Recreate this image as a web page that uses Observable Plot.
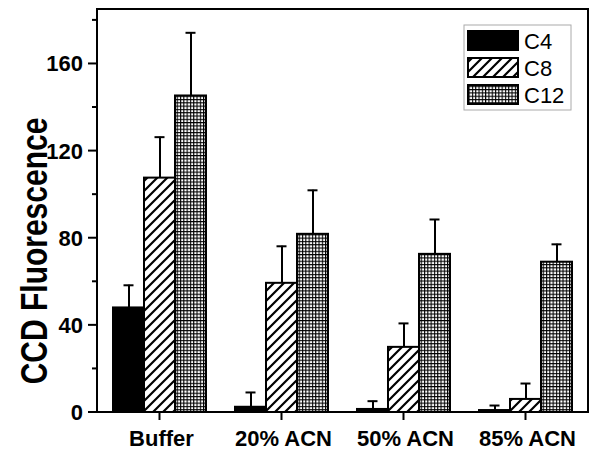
<!DOCTYPE html>
<html>
<head>
<meta charset="utf-8">
<script src="https://cdn.jsdelivr.net/npm/d3@7"></script>
<script src="https://cdn.jsdelivr.net/npm/@observablehq/plot@0.6"></script>
<style>
  html, body { margin: 0; padding: 0; background: #fff; }
  svg { display: block; }
</style>
</head>
<body>
<div id="chart"></div>
<script>
// ---- data ----
const groups = ["Buffer", "20% ACN", "50% ACN", "85% ACN"];
const series = ["C4", "C8", "C12"];
const c4Values  = [48, 2.4, 1.4, 0.9];
const c4Errors  = [10.4, 6.8, 3.8, 2.3];
const c8Values  = [107.6, 59.3, 29.9, 6];
const c8Errors  = [18.8, 17, 11, 7.3];
const c12Values = [145.3, 81.8, 72.6, 69];
const c12Errors = [29, 20.2, 16, 8.2];
const yTicks = [0, 40, 80, 120, 160];
const yMinorTicks = [20, 60, 100, 140, 180];

const valueArrays = {C4: c4Values, C8: c8Values, C12: c12Values};
const errorArrays = {C4: c4Errors, C8: c8Errors, C12: c12Errors};
const fills = {C4: "black", C8: "url(#hatch)", C12: "url(#grid)"};

const rows = [];
groups.forEach((g, i) => series.forEach(s => rows.push({
  group: g, series: s, value: valueArrays[s][i], err: errorArrays[s][i]
})));

const font = "'Liberation Sans', Arial, sans-serif";
const W = 601, H = 451;
const mL = 97, mR = 13, mT = 9, mB = 39;

const marks = [];
for (const s of series) {
  marks.push(Plot.ruleX(rows.filter(d => d.series === s), {
    fx: "group", x: "series", y1: "value", y2: d => d.value + d.err,
    stroke: "black", strokeWidth: 2
  }));
  marks.push(Plot.tickY(rows.filter(d => d.series === s), {
    fx: "group", x: "series", y: d => d.value + d.err,
    stroke: "black", strokeWidth: 2, insetLeft: 10.5, insetRight: 10.5
  }));
  marks.push(Plot.barY(rows.filter(d => d.series === s), {
    fx: "group", x: "series", y: "value",
    fill: fills[s], stroke: "black", strokeWidth: 2
  }));
}

const svg = Plot.plot({
  width: W, height: H,
  marginLeft: mL, marginRight: mR, marginTop: mT, marginBottom: mB,
  style: {fontFamily: font, background: "white", overflow: "visible"},
  fx: {domain: groups, paddingInner: 0.22, paddingOuter: 0.11, label: null, axis: null},
  x: {domain: series, padding: 0, axis: null},
  y: {domain: [0, 185], axis: null},
  marks
});

// ---- decorations (axes, frame, legend) drawn via the plot's scales ----
const root = d3.select(svg);
const defs = root.insert("defs", ":first-child");
const hatch = defs.append("pattern").attr("id", "hatch")
  .attr("patternUnits", "userSpaceOnUse").attr("width", 10).attr("height", 10);
hatch.append("rect").attr("width", 10).attr("height", 10).attr("fill", "white");
hatch.append("path").attr("d", "M-1,11 L11,-1 M-6,6 L6,-6 M4,16 L16,4")
  .attr("stroke", "black").attr("stroke-width", 2.2);
const grid = defs.append("pattern").attr("id", "grid")
  .attr("patternUnits", "userSpaceOnUse").attr("width", 3.3).attr("height", 3.3);
grid.append("rect").attr("width", 3.3).attr("height", 3.3).attr("fill", "black");
grid.append("rect").attr("x", 1.1).attr("y", 1.1).attr("width", 2.2).attr("height", 2.2).attr("fill", "white");

const y = svg.scale("y");
const fx = svg.scale("fx");
const y0 = y.apply(0), yTop = y.apply(185);
const xL = mL, xR = W - mR;
const g = root.append("g").attr("font-family", font).attr("text-anchor", "start").attr("fill", "black");

// frame
g.append("rect").attr("x", xL).attr("y", yTop).attr("width", xR - xL).attr("height", y0 - yTop)
  .attr("fill", "none").attr("stroke", "black").attr("stroke-width", 2);

// y ticks
for (const t of yTicks) {
  const py = y.apply(t);
  g.append("line").attr("x1", xL - 9).attr("x2", xL).attr("y1", py).attr("y2", py)
    .attr("stroke", "black").attr("stroke-width", 2);
  g.append("text").attr("transform", `translate(${xL - 14},${py + 8})`)
    .attr("text-anchor", "end").attr("font-size", 22).attr("font-weight", "bold").text(t);
}
for (const t of yMinorTicks) {
  const py = y.apply(t);
  g.append("line").attr("x1", xL - 5).attr("x2", xL).attr("y1", py).attr("y2", py)
    .attr("stroke", "black").attr("stroke-width", 2);
}
// x ticks
for (const gr of groups) {
  const px = fx.apply(gr) + fx.bandwidth / 2;
  g.append("line").attr("x1", px).attr("x2", px).attr("y1", y0).attr("y2", y0 + 8)
    .attr("stroke", "black").attr("stroke-width", 2);
  g.append("text").attr("transform", `translate(${px + 2},${y0 + 34})`)
    .attr("text-anchor", "middle").attr("font-size", 22).attr("font-weight", "bold").text(gr);
}
// y label
g.append("text").attr("transform", `translate(47,251) rotate(-90) scale(1,1.2)`)
  .attr("text-anchor", "middle").attr("font-size", 30).attr("font-weight", "bold")
  .text("CCD Fluorescence");

// legend
const lg = g.append("g");
lg.append("rect").attr("x", 464).attr("y", 25).attr("width", 107).attr("height", 85)
  .attr("fill", "white").attr("stroke", "#aaa").attr("stroke-width", 1);
series.forEach((s, i) => {
  const ry = 31 + i * 27;
  lg.append("rect").attr("x", 468).attr("y", ry).attr("width", 50).attr("height", 19)
    .attr("fill", fills[s]).attr("stroke", "black").attr("stroke-width", 2);
  lg.append("text").attr("x", 524).attr("y", ry + 10).attr("dy", "0.36em")
    .attr("text-anchor", "start").attr("font-size", 22).text(s);
});

document.getElementById("chart").appendChild(svg);
</script>
</body>
</html>
